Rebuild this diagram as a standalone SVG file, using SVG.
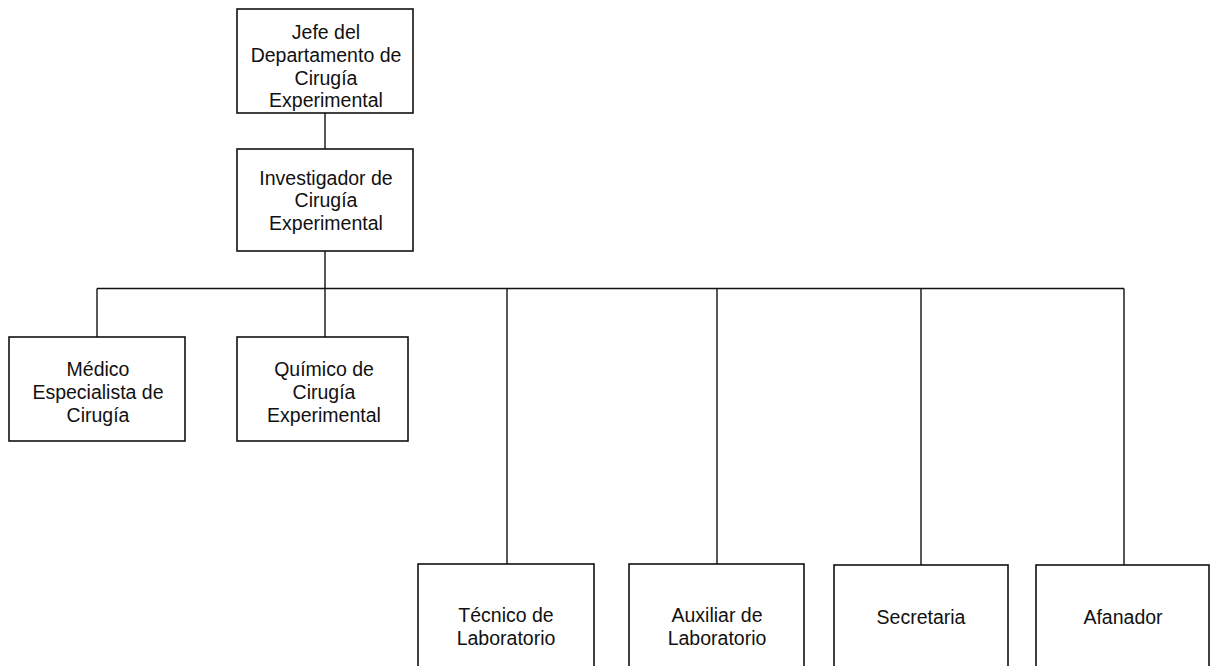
<svg xmlns="http://www.w3.org/2000/svg" width="1216" height="666" viewBox="0 0 1216 666">
<style>
.box{fill:#fff;stroke:#111;stroke-width:1.6}
.ln{fill:none;stroke:#111;stroke-width:1.4}
text{font-family:"Liberation Sans",Arial,sans-serif;font-size:19.5px;fill:#111;text-anchor:middle}
</style>
<rect width="1216" height="666" fill="#fff"/>
<g id="connectors">
<line class="ln" x1="325" y1="113" x2="325" y2="149"/>
<line class="ln" x1="325" y1="251" x2="325" y2="288.5"/>
<line class="ln" x1="97" y1="288.5" x2="97" y2="337"/>
<line class="ln" x1="97" y1="288.5" x2="1124" y2="288.5"/>
<line class="ln" x1="325" y1="288.5" x2="325" y2="337"/>
<line class="ln" x1="507" y1="288.5" x2="507" y2="564"/>
<line class="ln" x1="717" y1="288.5" x2="717" y2="564"/>
<line class="ln" x1="921" y1="288.5" x2="921" y2="565"/>
<line class="ln" x1="1124" y1="288.5" x2="1124" y2="565"/>
</g>
<g id="jefe">
<rect class="box" x="237" y="9" width="176" height="104"/>
<text x="326" y="39">Jefe del</text>
<text x="326" y="62">Departamento de</text>
<text x="326" y="85">Cirugía</text>
<text x="326" y="107">Experimental</text>
</g>
<g id="investigador">
<rect class="box" x="237" y="149" width="176" height="102"/>
<text x="326" y="185">Investigador de</text>
<text x="326" y="207">Cirugía</text>
<text x="326" y="230">Experimental</text>
</g>
<g id="medico">
<rect class="box" x="9" y="337" width="176" height="104"/>
<text x="98" y="376">Médico</text>
<text x="98" y="399">Especialista de</text>
<text x="98" y="422">Cirugía</text>
</g>
<g id="quimico">
<rect class="box" x="237" y="337" width="171" height="104"/>
<text x="324" y="376">Químico de</text>
<text x="324" y="399">Cirugía</text>
<text x="324" y="422">Experimental</text>
</g>
<g id="tecnico">
<rect class="box" x="418" y="564" width="176" height="120"/>
<text x="506" y="622">Técnico de</text>
<text x="506" y="645">Laboratorio</text>
</g>
<g id="auxiliar">
<rect class="box" x="629" y="564" width="175" height="120"/>
<text x="717" y="622">Auxiliar de</text>
<text x="717" y="645">Laboratorio</text>
</g>
<g id="secretaria">
<rect class="box" x="834" y="565" width="174" height="120"/>
<text x="921" y="624">Secretaria</text>
</g>
<g id="afanador">
<rect class="box" x="1036" y="565" width="173" height="120"/>
<text x="1123" y="624">Afanador</text>
</g>
</svg>
